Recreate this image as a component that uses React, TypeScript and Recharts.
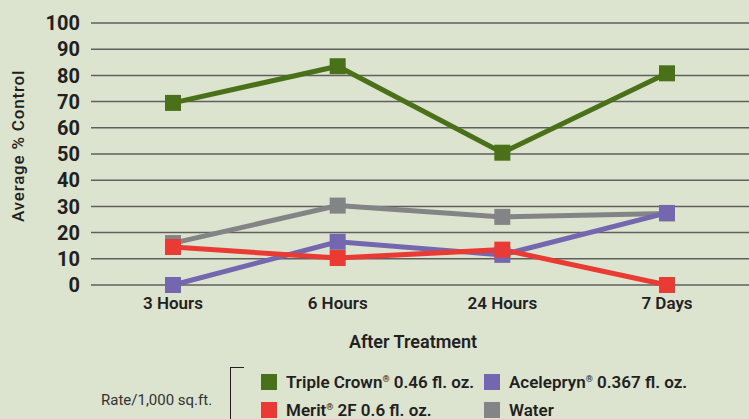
import { LineChart, Line, XAxis, YAxis, CartesianGrid } from 'recharts';

const periods = ['3 Hours', '6 Hours', '24 Hours', '7 Days'];
const tripleCrown = [69.5, 83.5, 50.5, 80.8];
const acelepryn = [0, 16.5, 11.5, 27.5];
const merit = [14.5, 10.3, 13.5, 0];
const water = [16, 30.3, 26, 27.3];
const yTicks = [0, 10, 20, 30, 40, 50, 60, 70, 80, 90, 100];

const series = [
  { key: 'water', name: 'Water', color: '#838486' },
  { key: 'acelepryn', name: 'Acelepryn® 0.367 fl. oz.', color: '#7467b0' },
  { key: 'merit', name: 'Merit® 2F 0.6 fl. oz.', color: '#e93b33' },
  { key: 'tripleCrown', name: 'Triple Crown® 0.46 fl. oz.', color: '#4a7119' },
];

const data = periods.map((p, i) => ({
  period: p,
  tripleCrown: tripleCrown[i],
  acelepryn: acelepryn[i],
  merit: merit[i],
  water: water[i],
}));

const FONT = 'Roboto, "Noto Sans", sans-serif';
const INK = '#231f20';

const SquareDot = (color: string) => (props: any) => {
  const { cx, cy, index } = props;
  if (cx == null || cy == null) return null;
  return <rect key={index} x={cx - 8} y={cy - 8} width={16} height={16} fill={color} />;
};

const LegendItem = ({ color, label, x, y }: { color: string; label: string; x: number; y: number }) => {
  const parts = label.split('®');
  return (
    <div style={{ position: 'absolute', left: x, top: y, display: 'flex', alignItems: 'center', whiteSpace: 'nowrap' }}>
      <div style={{ width: 16, height: 16, background: color, marginRight: 9 }} />
      <span style={{ fontSize: 17, fontWeight: 600, color: INK }}>
        {parts[0]}
        {parts.length > 1 && <sup style={{ fontSize: 9, verticalAlign: 6 }}>®</sup>}
        {parts[1]}
      </span>
    </div>
  );
};

export default function App() {
  return (
    <div
      style={{
        position: 'absolute',
        left: 0,
        top: 0,
        width: 749,
        height: 419,
        background: '#dce3cf',
        fontFamily: FONT,
        overflow: 'hidden',
      }}
    >
      <LineChart width={749} height={360} data={data} margin={{ top: 23, right: 0, left: 0, bottom: 0 }}>
        <CartesianGrid vertical={false} stroke="#5f5f5f" strokeWidth={1.5} />
        <XAxis
          dataKey="period"
          height={75}
          axisLine={false}
          tickLine={false}
          tickMargin={6}
          padding={{ left: 82, right: 82 }}
          tick={{ fill: INK, fontSize: 17, fontWeight: 600, fontFamily: FONT }}
        />
        <YAxis
          width={91}
          domain={[0, 100]}
          ticks={yTicks}
          interval={0}
          axisLine={false}
          tickLine={false}
          tickMargin={5}
          tick={{ fill: INK, fontSize: 20, fontWeight: 700, fontFamily: FONT }}
        />
        {series.map((s) => (
          <Line
            key={s.key}
            type="linear"
            dataKey={s.key}
            name={s.name}
            stroke={s.color}
            strokeWidth={5}
            dot={SquareDot(s.color)}
            activeDot={false}
            isAnimationActive={false}
          />
        ))}
      </LineChart>

      <div
        style={{
          position: 'absolute',
          left: 18,
          top: 146,
          transform: 'translate(-50%, -50%) rotate(-90deg)',
          fontSize: 17,
          letterSpacing: 0.8,
          fontWeight: 500,
          color: INK,
          whiteSpace: 'nowrap',
        }}
      >
        Average % Control
      </div>

      <div
        style={{
          position: 'absolute',
          left: 413,
          top: 341,
          transform: 'translate(-50%, -50%)',
          fontSize: 18,
          fontWeight: 600,
          color: INK,
          whiteSpace: 'nowrap',
        }}
      >
        After Treatment
      </div>

      <div
        style={{
          position: 'absolute',
          left: 101,
          top: 400,
          transform: 'translateY(-50%)',
          fontSize: 15,
          color: '#333',
          whiteSpace: 'nowrap',
        }}
      >
        Rate/1,000 sq.ft.
      </div>

      <div style={{ position: 'absolute', left: 230, top: 367, width: 13, height: 60, borderLeft: `1.5px solid ${INK}`, borderTop: `1.5px solid ${INK}` }} />

      <LegendItem color="#4a7119" label="Triple Crown® 0.46 fl. oz." x={261} y={372} />
      <LegendItem color="#7467b0" label="Acelepryn® 0.367 fl. oz." x={484} y={372} />
      <LegendItem color="#e93b33" label="Merit® 2F 0.6 fl. oz." x={261} y={400} />
      <LegendItem color="#838486" label="Water" x={484} y={400} />
    </div>
  );
}
